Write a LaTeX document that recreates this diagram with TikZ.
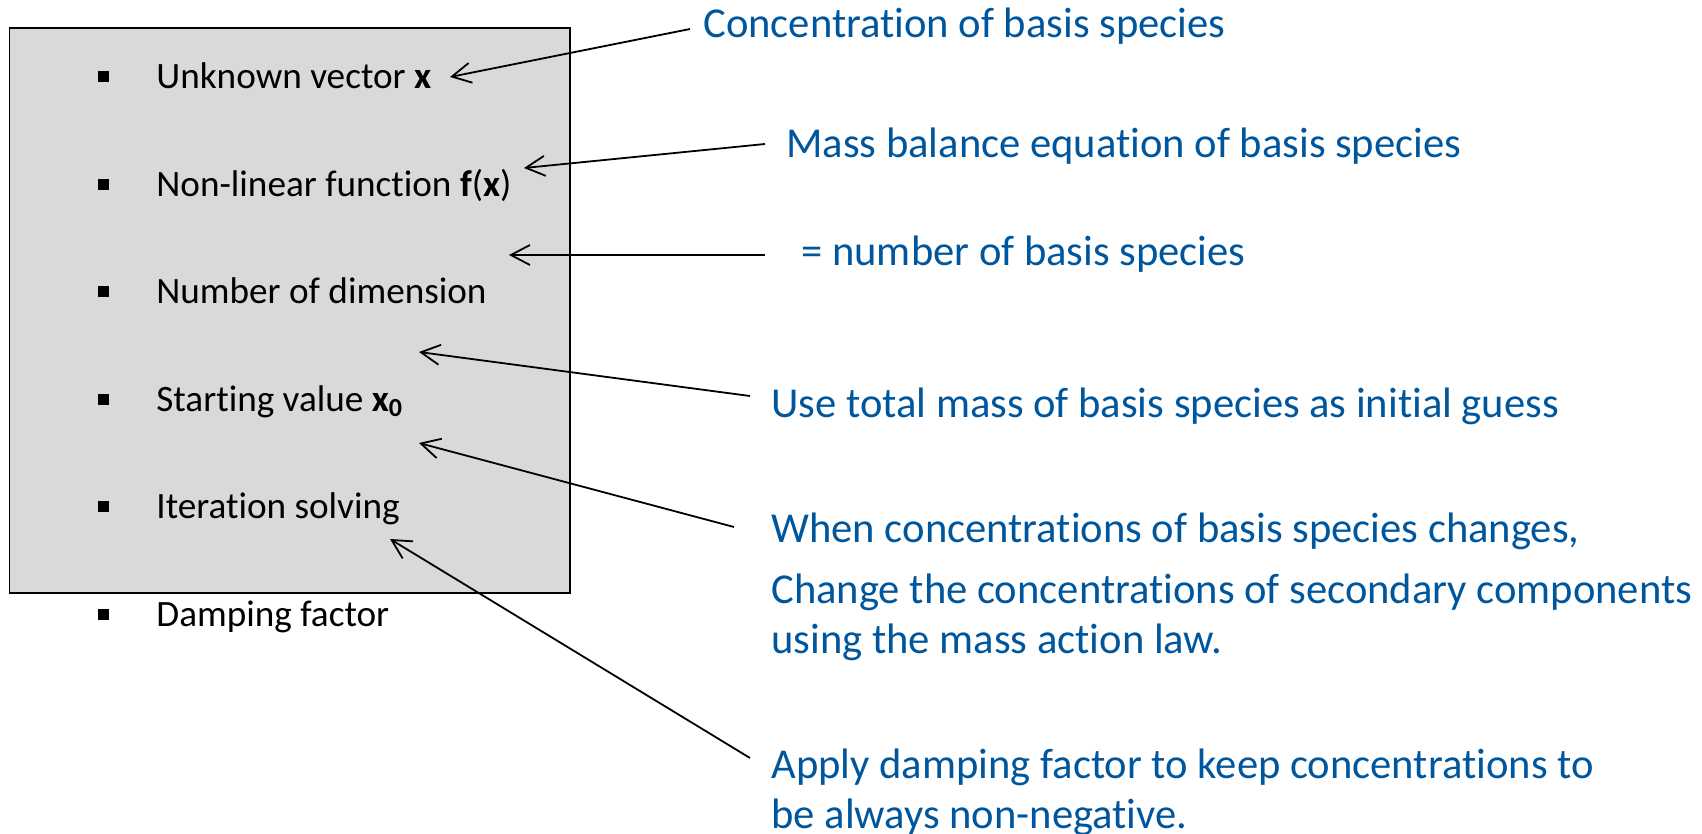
\documentclass[tikz,border=0pt]{standalone}
\usepackage{fontspec}
\setmainfont{Carlito}[Ligatures=NoCommon]
\usetikzlibrary{arrows.meta,positioning}
\definecolor{noteblue}{RGB}{0,86,157}
\definecolor{boxgray}{RGB}{217,217,217}

\tikzset{
  item/.style={anchor=base west, inner sep=0pt, font=\fontsize{18.6}{22}\selectfont},
  note/.style={anchor=base west, inner sep=0pt, text=noteblue, font=\fontsize{21.3}{25}\selectfont},
  bul/.style={fill=black, inner sep=0pt, minimum size=5.5pt},
  pointer/.style={->, line width=0.9pt}
}

\begin{document}
\begin{tikzpicture}[x=0.5pt,y=-0.5pt,>={Straight Barb[length=9.5pt,width=10pt]}]
\useasboundingbox (0,0) rectangle (1702,834);
\draw[fill=boxgray, line width=0.8pt] (9.6,28) rectangle (570,593);

% list items
\node[bul] (b1) at (103.5,77) {};
\node[bul] (b2) at (103.5,184.4) {};
\node[bul] (b3) at (103.5,291.8) {};
\node[bul] (b4) at (103.5,399.2) {};
\node[bul] (b5) at (103.5,506.6) {};
\node[bul] (b6) at (103.5,614) {};
\node[item] (unk) at (156,89) {Unknown vector \textbf{x}};
\node[item] (nlf) at (156,196.4) {Non-linear function \textbf{f}(\textbf{x})};
\node[item] (ndim) at (156,303.8) {Number of dimension};
\node[item] (sval) at (156,411.2) {Starting value \textbf{x}\textsubscript{\textbf{0}}};
\node[item] (iter) at (156,518.6) {Iteration solving};
\node[item] (damp) at (156,626) {Damping factor};

% notes
\node[note] (conc) at (703,38) {Concentration of basis species};
\node[note] (mass) at (786,158) {Mass balance equation of basis species};
\node[note] (nbs) at (801,265) {= number of basis species};
\node[note] (tot) at (771,417) {Use total mass of basis species as initial guess};
\node[note] (when1) at (771,542) {When concentrations of basis species changes,};
\node[note] (when2) at (771,603) {Change the concentrations of secondary components};
\node[note] (when3) at (771,653) {using the mass action law.};
\node[note] (keep1) at (771,778) {Apply damping factor to keep concentrations to};
\node[note] (keep2) at (771,828) {be always non-negative.};

% pointer ends
\coordinate (s1) at (690,29);   \coordinate (t1) at (450,77);
\coordinate (s2) at (765,144);  \coordinate (t2) at (524,168);
\coordinate (s3) at (765,255);  \coordinate (t3) at (509,255);
\coordinate (s4) at (750,396);  \coordinate (t4) at (419,352);
\coordinate (s5) at (734,527);  \coordinate (t5) at (419,443);
\coordinate (s6) at (750,758);  \coordinate (t6) at (390,539);

\draw[pointer] (s1) -- (t1);
\draw[pointer] (s2) -- (t2);
\draw[pointer] (s3) -- (t3);
\draw[pointer] (s4) -- (t4);
\draw[pointer] (s5) -- (t5);
\draw[pointer] (s6) -- (t6);
\end{tikzpicture}
\end{document}
